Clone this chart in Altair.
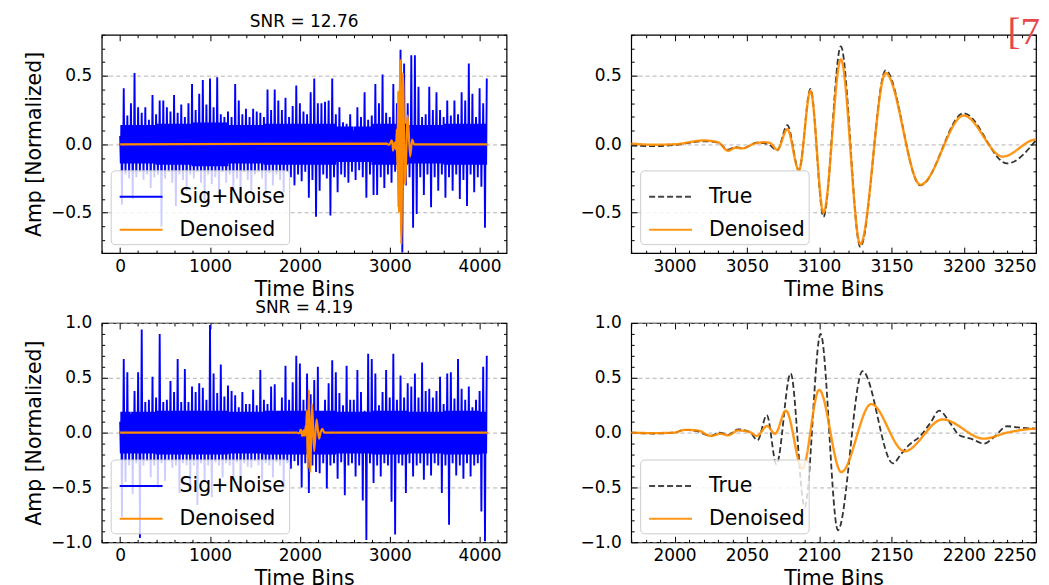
import altair as alt
import pandas as pd

FONT = "DejaVu Sans"
BLUE = "#0000ff"
ORANGE = "#ff8c00"
DARK = "#333333"

W = 406
H_TOP = 219
H_BOT = 220
NOISE_STEP = 40      # time bins between successive local maxima of the noisy trace
LAST_BIN = 4095

# ---------------- Sig+Noise, top (SNR = 12.76) ----------------
# local maxima at bins 0, 40, 80, ...   (10 values = 400 bins per row)
tl_peaks = [
    0.06, 0.41, 0.21, 0.30, 0.52, 0.27, 0.23, 0.27, 0.18, 0.36,
    0.22, 0.32, 0.32, 0.27, 0.24, 0.36, 0.23, 0.29, 0.20, 0.30,
    0.44, 0.25, 0.37, 0.47, 0.29, 0.48, 0.27, 0.49, 0.22, 0.20,
    0.24, 0.20, 0.44, 0.32, 0.22, 0.26, 0.20, 0.26, 0.24, 0.23,
    0.20, 0.40, 0.25, 0.40, 0.32, 0.25, 0.34, 0.20, 0.28, 0.43,
    0.30, 0.24, 0.22, 0.38, 0.48, 0.30, 0.30, 0.31, 0.32, 0.48,
    0.22, 0.27, 0.16, 0.15, 0.22, 0.10, 0.27, 0.20, 0.38, 0.18,
    0.21, 0.44, 0.30, 0.51, 0.23, 0.20, 0.44, 0.30, 0.69, 0.59,
    0.30, 0.65, 0.65, 0.42, 0.20, 0.22, 0.42, 0.25, 0.38, 0.25,
    0.20, 0.32, 0.21, 0.32, 0.22, 0.38, 0.32, 0.59, 0.37, 0.20,
    0.41, 0.30, 0.48,
]
# local minima at bins 20, 60, 100, ...
tl_troughs = [
    -0.44, -0.22, -0.25, -0.40, -0.24, -0.20, -0.26, -0.22, -0.32, -0.24,
    -0.22, -0.60, -0.25, -0.20, -0.28, -0.45, -0.22, -0.26, -0.34, -0.22,
    -0.25, -0.20, -0.28, -0.41, -0.22, -0.29, -0.24, -0.39, -0.20, -0.28,
    -0.22, -0.34, -0.25, -0.41, -0.20, -0.26, -0.34, -0.22, -0.20, -0.25,
    -0.36, -0.21, -0.30, -0.22, -0.26, -0.35, -0.20, -0.24, -0.30, -0.22,
    -0.27, -0.20, -0.39, -0.26, -0.53, -0.34, -0.22, -0.25, -0.52, -0.24,
    -0.35, -0.22, -0.24, -0.28, -0.20, -0.26, -0.19, -0.24, -0.39, -0.22,
    -0.37, -0.37, -0.24, -0.32, -0.22, -0.28, -0.20, -0.46, -0.79, -0.30,
    -0.24, -0.61, -0.51, -0.24, -0.37, -0.22, -0.46, -0.24, -0.34, -0.22,
    -0.39, -0.24, -0.34, -0.22, -0.40, -0.26, -0.45, -0.22, -0.35, -0.24,
    -0.31, -0.61,
]
# half-width of the dense noise core, one value per 400 bins
tl_core = [0.14, 0.15, 0.16, 0.14, 0.15, 0.15, 0.13, 0.15, 0.14, 0.15, 0.15]

# ---------------- Sig+Noise, bottom (SNR = 4.19) ----------------
bl_peaks = [
    0.10, 0.67, 0.55, 0.17, 0.38, 0.55, 0.94, 0.28, 0.30, 0.51,
    0.32, 0.90, 0.28, 0.30, 0.47, 0.37, 0.67, 0.28, 0.58, 0.28,
    0.42, 0.37, 0.45, 0.41, 0.30, 0.98, 0.54, 0.36, 0.62, 0.33,
    0.43, 0.38, 0.34, 0.23, 0.37, 0.26, 0.26, 0.39, 0.25, 0.57,
    0.30, 0.26, 0.42, 0.44, 0.20, 0.32, 0.61, 0.30, 0.46, 0.70,
    0.63, 0.30, 0.54, 0.35, 0.48, 0.60, 0.20, 0.30, 0.45, 0.66,
    0.55, 0.36, 0.25, 0.61, 0.30, 0.30, 0.57, 0.37, 0.20, 0.72,
    0.67, 0.54, 0.25, 0.37, 0.57, 0.32, 0.72, 0.30, 0.52, 0.32,
    0.45, 0.42, 0.54, 0.32, 0.64, 0.38, 0.40, 0.32, 0.38, 0.51,
    0.26, 0.54, 0.55, 0.31, 0.67, 0.40, 0.30, 0.42, 0.23, 0.30,
    0.38, 0.60, 0.70,
]
bl_troughs = [
    -0.77, -0.45, -0.30, -0.56, -0.28, -0.96, -0.30, -0.26, -0.41, -0.30,
    -0.50, -0.28, -0.44, -0.25, -0.32, -0.30, -0.55, -0.28, -0.30, -0.50,
    -0.30, -0.66, -0.28, -0.44, -0.30, -0.59, -0.27, -0.30, -0.41, -0.28,
    -0.30, -0.42, -0.27, -0.52, -0.28, -0.31, -0.32, -0.26, -0.30, -0.44,
    -0.28, -0.30, -0.41, -0.27, -0.30, -0.50, -0.28, -0.33, -0.26, -0.30,
    -0.50, -0.28, -0.55, -0.30, -0.36, -0.37, -0.28, -0.51, -0.30, -0.28,
    -0.42, -0.27, -0.57, -0.30, -0.28, -0.40, -0.30, -0.62, -0.98, -0.28,
    -0.46, -0.30, -0.40, -0.28, -0.30, -0.63, -0.93, -0.28, -0.30, -0.55,
    -0.28, -0.40, -0.30, -0.28, -0.43, -0.30, -0.39, -0.28, -0.30, -0.55,
    -0.30, -0.84, -0.28, -0.39, -0.30, -0.42, -0.28, -0.40, -0.30, -0.28,
    -0.72, -0.99,
]
bl_core = [0.19, 0.20, 0.20, 0.19, 0.20, 0.20, 0.19, 0.20, 0.19, 0.20, 0.19]

# ---------------- zoomed waveforms, top ----------------
tr_true_bins = [2970, 2985, 3000, 3020, 3030, 3037, 3042, 3047, 3057, 3065, 3071, 3078,
                3086, 3094, 3103, 3115, 3128.5, 3146, 3170, 3200, 3230, 3250]
tr_true_amp = [-0.01, -0.013, -0.005, 0.022, 0.012, -0.04, -0.02, -0.03, 0.012, 0.0, -0.045, 0.14,
               -0.19, 0.405, -0.53, 0.715, -0.75, 0.54, -0.30, 0.227, -0.14, 0.03]
tr_den_bins = [2970, 2985, 3000, 3020, 3030, 3037, 3042, 3047, 3055, 3062, 3066, 3071, 3078,
               3086, 3094, 3103, 3115, 3128.5, 3146, 3170, 3200, 3227, 3250, 3270]
tr_den_amp = [0.005, -0.003, 0.0, 0.028, 0.015, -0.047, -0.025, -0.03, 0.005, 0.015, 0.01, -0.04, 0.11,
              -0.19, 0.39, -0.50, 0.62, -0.73, 0.52, -0.295, 0.21, -0.09, 0.035, 0.0]

# ---------------- zoomed waveforms, bottom ----------------
br_true_bins = [1970, 1985, 2000, 2007, 2015, 2025, 2031, 2037, 2044, 2052, 2057.4, 2063.8,
                2070.5, 2080.3, 2090, 2101, 2113, 2130, 2151, 2157, 2162, 2170, 2177, 2183,
                2191, 2197, 2205, 2214, 2221, 2230, 2239, 2250]
br_true_amp = [0.0, -0.008, 0.0, 0.025, 0.015, -0.03, 0.0, -0.02, 0.03, 0.005, -0.07, 0.16,
               -0.29, 0.54, -0.68, 0.90, -0.89, 0.56, -0.28, -0.19, -0.115, -0.03, 0.09, 0.20,
               0.08, -0.024, -0.055, -0.10, -0.04, 0.058, 0.045, 0.036]
br_den_bins = [1970, 1985, 2000, 2007, 2016, 2025, 2032, 2037, 2044, 2052, 2057, 2064,
               2069.5, 2077, 2088.4, 2100, 2115.3, 2136, 2159, 2185.4, 2214, 2230, 2250, 2270]
br_den_amp = [0.0, -0.005, 0.0, 0.025, 0.02, -0.03, -0.01, -0.025, 0.02, 0.005, -0.03, 0.06,
              -0.01, 0.20, -0.33, 0.39, -0.36, 0.26, -0.17, 0.12, -0.055, 0.0, 0.035, 0.0]

# ---------------- ticks ----------------
full_x_major = [0, 1000, 2000, 3000, 4000]
full_x_ticks = list(range(-200, 4300, 200))
top_zoom_x_major = [3000, 3050, 3100, 3150, 3200, 3250]
top_zoom_x_ticks = list(range(2970, 3251, 10))
bot_zoom_x_major = [2000, 2050, 2100, 2150, 2200, 2250]
bot_zoom_x_ticks = list(range(1970, 2251, 10))
top_y_major = [-0.5, 0.0, 0.5]
top_y_ticks = [round(k / 10, 1) for k in range(-7, 9)]
bot_y_major = [-1.0, -0.5, 0.0, 0.5, 1.0]
bot_y_ticks = [round(k / 10, 1) for k in range(-10, 11)]


def noise_frame(peaks, troughs, core):
    """Sig+Noise trace: each peak/trough plus the dense core crossings between them."""
    bins, amps = [], []
    half = NOISE_STEP // 2
    for i, p in enumerate(peaks):
        b = i * NOISE_STEP
        c = core[min(b // 400, len(core) - 1)]
        bins.append(b)
        amps.append(p)
        if i < len(troughs):
            bins += [b + 7, b + 13, b + half]
            amps += [-c, c, troughs[i]]
            if i + 1 < len(peaks):
                bins += [b + half + 7, b + half + 13]
                amps += [c, -c]
    df = pd.DataFrame({"bin": bins, "amp": amps})
    df["series"] = "Sig+Noise"
    return df


def curve_frame(bins, amps, name):
    return pd.DataFrame({"bin": bins, "amp": amps, "series": name})


def full_denoised(bins, amps):
    return curve_frame([0] + bins + [LAST_BIN], [0.0] + amps + [0.0], "Denoised")


def cond_size(test):
    return {"condition": {"test": test, "value": 6}, "value": 3}


def panel(df1, style1, df2, style2, xdom, ydom, h, xmaj, xall, xtest,
          ymaj, yall, dom, rng, dash=None, title=None, ytitle=None):
    ytest = "abs(datum.value*2 - round(datum.value*2)) < 0.001"
    xsc = alt.Scale(domain=xdom, nice=False, zero=False)
    ysc = alt.Scale(domain=ydom, nice=False, zero=False)
    leg = alt.Legend(title=None, orient="bottom-left", offset=9, padding=4,
                     fillColor="rgba(255,255,255,0.8)", strokeColor="#cccccc",
                     cornerRadius=4, symbolType="stroke", symbolSize=1849,
                     symbolStrokeWidth=2, symbolOffset=4, labelFontSize=20.5, labelOffset=16,
                     rowPadding=0, labelFont=FONT, labelColor="black")
    enc = {"color": alt.Color("series:N", scale=alt.Scale(domain=dom, range=rng), legend=leg)}
    if dash is not None:
        enc["strokeDash"] = alt.StrokeDash("series:N", scale=alt.Scale(domain=dom, range=dash), legend=leg)

    xA = alt.Axis(orient="bottom", values=xmaj, format="d", title="Time Bins", ticks=False,
                  domain=False, grid=False, labelPadding=5, titlePadding=5)
    yA = alt.Axis(orient="left", values=ymaj, format=".1f", title=ytitle, ticks=False,
                  domain=False, grid=True, gridDash=[4, 3], gridColor="#a0a0a0", gridWidth=0.8,
                  labelPadding=10, titlePadding=6)
    common = dict(labels=False, domain=False, grid=False, ticks=True, tickColor="black",
                  tickWidth=1, title=None)
    xB = alt.Axis(orient="top", offset=-h, values=xall, tickSize=cond_size(xtest), **common)
    yB = alt.Axis(orient="right", offset=-W, values=yall, tickSize=cond_size(ytest), **common)
    xC = alt.Axis(orient="bottom", offset=-h, values=xall, tickSize=cond_size(xtest), **common)
    yC = alt.Axis(orient="left", offset=-W, values=yall, tickSize=cond_size(ytest), **common)

    l1 = alt.Chart(df1).mark_line(clip=True, **style1).encode(
        x=alt.X("bin:Q", scale=xsc, axis=xA), y=alt.Y("amp:Q", scale=ysc, axis=yA), **enc)
    l2 = alt.Chart(df2).mark_line(clip=True, **style2).encode(
        x=alt.X("bin:Q", scale=xsc, axis=xB), y=alt.Y("amp:Q", scale=ysc, axis=yB), **enc)
    l3 = alt.Chart(df2).mark_line(clip=True, opacity=0, color="white").encode(
        x=alt.X("bin:Q", scale=xsc, axis=xC), y=alt.Y("amp:Q", scale=ysc, axis=yC))
    ch = alt.layer(l1, l2, l3).resolve_axis(x="independent", y="independent").properties(
        width=W, height=h)
    if title is not None:
        ch = ch.properties(title=title)
    return ch


noise_style = dict(strokeWidth=1.9)
den_style = dict(strokeWidth=2.4, interpolate="monotone", opacity=0.9)
true_style = dict(strokeWidth=1.8, interpolate="monotone")
full_xtest = "abs(datum.value % 1000) < 0.5"
zoom_xtest = "abs(datum.value % 50) < 0.5"

tl = panel(noise_frame(tl_peaks, tl_troughs, tl_core), noise_style,
           full_denoised(tr_den_bins, tr_den_amp), dict(strokeWidth=2.2, interpolate="monotone"),
           [-205, 4300], [-0.795, 0.80], H_TOP, full_x_major, full_x_ticks, full_xtest,
           top_y_major, top_y_ticks, ["Sig+Noise", "Denoised"], [BLUE, ORANGE],
           title=alt.Title("SNR = 12.76", anchor="middle", frame="group", offset=3),
           ytitle="Amp [Normalized]")
tr = panel(curve_frame(tr_true_bins, tr_true_amp, "True"), true_style,
           curve_frame(tr_den_bins, tr_den_amp, "Denoised"), den_style,
           [2970, 3250], [-0.795, 0.80], H_TOP, top_zoom_x_major, top_zoom_x_ticks, zoom_xtest,
           top_y_major, top_y_ticks, ["True", "Denoised"], [DARK, ORANGE], dash=[[6, 3], [1, 0]],
           title=alt.Title("[7", anchor="end", frame="group", offset=-18, dx=4,
                           fontSize=39, font="Liberation Serif", color="#e8474a"))
bl = panel(noise_frame(bl_peaks, bl_troughs, bl_core), noise_style,
           full_denoised(br_den_bins, br_den_amp), dict(strokeWidth=2.2, interpolate="monotone"),
           [-205, 4300], [-1.0, 1.0], H_BOT, full_x_major, full_x_ticks, full_xtest,
           bot_y_major, bot_y_ticks, ["Sig+Noise", "Denoised"], [BLUE, ORANGE],
           title=alt.Title("SNR = 4.19", anchor="middle", frame="group", offset=-3),
           ytitle="Amp [Normalized]")
br = panel(curve_frame(br_true_bins, br_true_amp, "True"), true_style,
           curve_frame(br_den_bins, br_den_amp, "Denoised"), den_style,
           [1970, 2250], [-1.0, 1.0], H_BOT, bot_zoom_x_major, bot_zoom_x_ticks, zoom_xtest,
           bot_y_major, bot_y_ticks, ["True", "Denoised"], [DARK, ORANGE], dash=[[6, 3], [1, 0]])

indep = dict(color="independent", strokeDash="independent")
top = alt.hconcat(tl, tr, spacing=71).resolve_scale(**indep).resolve_legend(**indep)
bot = alt.hconcat(bl, br, spacing=71).resolve_scale(**indep).resolve_legend(**indep)

chart = alt.vconcat(top, bot, spacing=-3).resolve_scale(**indep).resolve_legend(**indep).properties(
    padding={"left": 16, "top": 3, "right": 0, "bottom": 0}
).configure_view(stroke="black", strokeWidth=1.2).configure_axis(
    labelFont=FONT, titleFont=FONT, labelFontSize=17, titleFontSize=20.5,
    labelColor="black", titleColor="black", titleFontWeight="normal"
).configure_title(font=FONT, fontSize=17, fontWeight="normal", color="black")

chart.save("out.html", embed_options={"renderer": "svg", "actions": False})
